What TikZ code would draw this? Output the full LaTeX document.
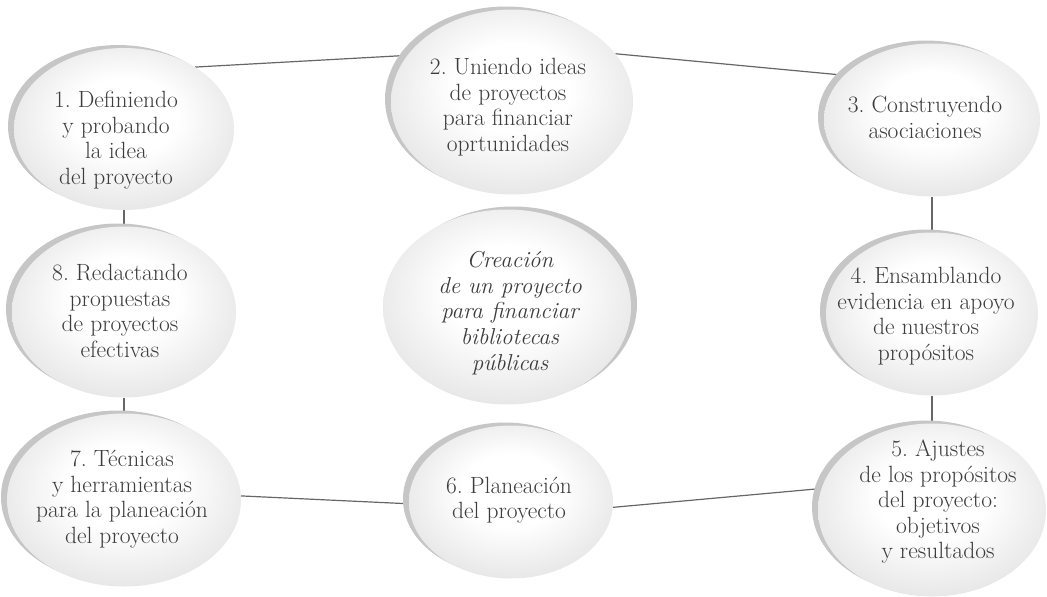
\documentclass[tikz,border=0pt]{standalone}
\usepackage{fontspec}
\usetikzlibrary{shapes.geometric,shadows}
\pgfdeclarelayer{bg}
\pgfsetlayers{bg,main}
\definecolor{txt}{HTML}{3C3C3C}
\definecolor{shad}{HTML}{C6C6C6}
\definecolor{edgec}{HTML}{E8E8E8}
\definecolor{linec}{HTML}{666666}
\pgfdeclareradialshading{ellshade}{\pgfpoint{0bp}{5bp}}{color(0bp)=(white); color(12bp)=(white); color(27bp)=(edgec); color(50bp)=(edgec)}
\tikzset{
  bubble/.style={ellipse, inner sep=0pt, shade, shading=ellshade,
    drop shadow={shadow xshift=-6pt, shadow yshift=3pt, fill=shad, opacity=1}},
  rbubble/.style={ellipse, inner sep=0pt, shade, shading=ellshade,
    drop shadow={shadow xshift=6pt, shadow yshift=3pt, fill=shad, opacity=1}},
  btext/.style={text=txt, align=center, inner sep=0pt, font=\fontsize{23.5}{25.5}\selectfont},
  conn/.style={draw=linec, line width=1.2pt}
}
\frenchspacing
\begin{document}
\begin{tikzpicture}[x=1pt,y=-1pt]
\useasboundingbox (0,0) rectangle (1047,597);
% ellipses
\node[bubble, minimum width=220pt, minimum height=162pt] (e1) at (124,129) {};
\node[bubble, minimum width=242pt, minimum height=185pt] (e2) at (512,102) {};
\node[bubble, minimum width=216pt, minimum height=153pt] (e3) at (932,120) {};
\node[bubble, minimum width=212pt, minimum height=163pt] (e4) at (932,314) {};
\node[bubble, minimum width=228pt, minimum height=173pt] (e5) at (932,510) {};
\node[bubble, minimum width=204pt, minimum height=153pt] (e6) at (511,502) {};
\node[bubble, minimum width=234pt, minimum height=173pt] (e7) at (124,500) {};
\node[bubble, minimum width=224pt, minimum height=171pt] (e8) at (124,312) {};
\node[rbubble, minimum width=248pt, minimum height=195pt] (ec) at (507,307) {};
% texts
\node[btext] (t1) at (116,140) {1. Definiendo\\y probando\\la idea\\del proyecto};
\node[btext] (t2) at (508,107) {2. Uniendo ideas\\de proyectos\\para financiar\\oprtunidades};
\node[btext] (t3) at (925,117.5) {3. Construyendo\\asociaciones};
\node[btext] (t4) at (926,316) {4. Ensamblando\\evidencia en apoyo\\de nuestros\\propósitos};
\node[btext] (t5) at (938,502) {5. Ajustes\\de los propósitos\\del proyecto:\\objetivos\\y resultados};
\node[btext] (t6) at (509,500) {6. Planeación\\del proyecto};
\node[btext] (t7) at (122,499) {7. Técnicas\\y herramientas\\para la planeación\\del proyecto};
\node[btext] (t8) at (120,311) {8. Redactando\\propuestas\\de proyectos\\efectivas};
\node[btext, font=\fontsize{23}{25.7}\selectfont\itshape] (tc) at (510,313) {Creación\\de un proyecto\\para financiar\\bibliotecas\\públicas};
% connectors
\begin{pgfonlayer}{bg}
\draw[conn] (e1.41.5) -- (e2.156.4);
\draw[conn] (e2.25.4) -- (e3.153.2);
\draw[conn] (e3.south) -- (e4.north);
\draw[conn] (e4.south) -- (e5.north);
\draw[conn] (e6.-3.4) -- (e5.169.6);
\draw[conn] (e7.2.5) -- (e6.181);
\draw[conn] (e8.south) -- (e7.north);
\draw[conn] (e1.south) -- (e8.north);
\end{pgfonlayer}
\end{tikzpicture}
\end{document}
